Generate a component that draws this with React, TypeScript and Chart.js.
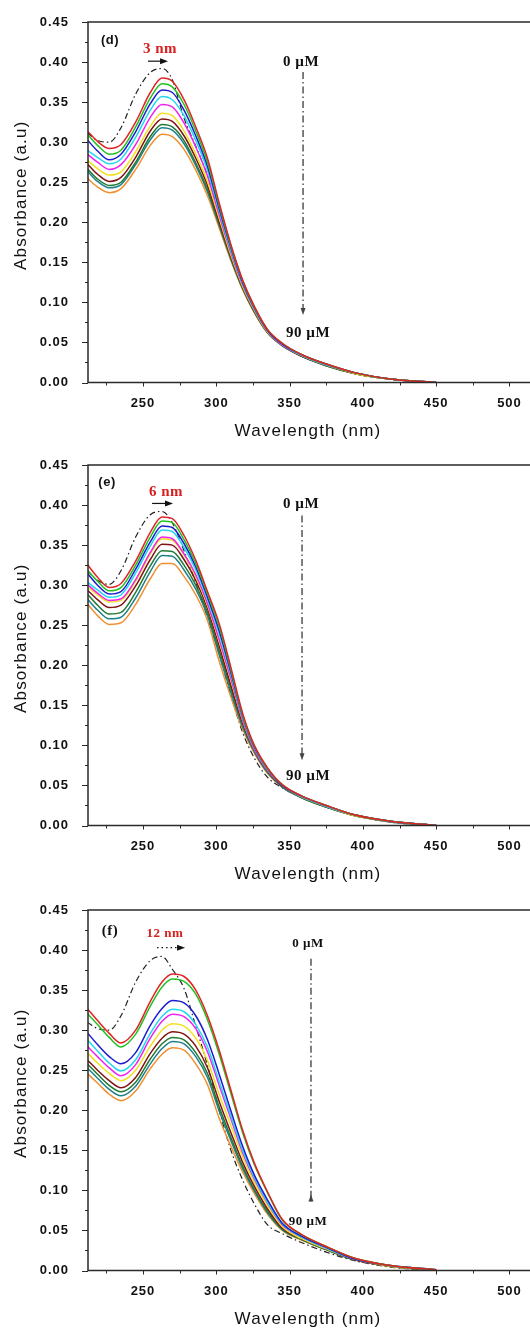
import React, { useEffect, useRef } from 'react';
import { Chart, registerables } from 'chart.js';

Chart.register(...registerables);

// Wavelength grid (nm) on which the spectra were read
const WAVELENGTHS = [212, 219, 227, 235, 245, 255, 263, 270, 278, 286, 294, 302, 310, 318, 326, 335, 345, 358, 375, 395, 420, 450];

const CONCENTRATIONS = ['0 µM', '10 µM', '20 µM', '30 µM', '40 µM', '50 µM', '60 µM', '70 µM', '80 µM', '90 µM'];
const COLORS = ['#e02424', '#22c022', '#1c1cd0', '#22d8f0', '#f022f0', '#f2e020', '#801414', '#207a34', '#20808a', '#f09032'];

const X_TICKS = [250, 300, 350, 400, 450, 500];
const X_MINOR = [225, 275, 325, 375, 425, 475];
const Y_TICKS = [0, 0.05, 0.1, 0.15, 0.2, 0.25, 0.3, 0.35, 0.4, 0.45];

// black dash-dot reference spectrum of each panel
const D_REFERENCE = [0.312, 0.302, 0.300, 0.318, 0.360, 0.387, 0.392, 0.378, 0.330, 0.295, 0.258, 0.210, 0.162, 0.122, 0.091, 0.064, 0.047, 0.034, 0.022, 0.011, 0.004, 0];
const E_REFERENCE = [0.318, 0.306, 0.301, 0.318, 0.360, 0.388, 0.392, 0.378, 0.343, 0.303, 0.260, 0.214, 0.163, 0.116, 0.084, 0.060, 0.047, 0.035, 0.023, 0.012, 0.004, 0];
const F_REFERENCE = [0.310, 0.302, 0.300, 0.318, 0.360, 0.387, 0.392, 0.376, 0.352, 0.305, 0.256, 0.200, 0.150, 0.113, 0.083, 0.057, 0.046, 0.035, 0.023, 0.012, 0.004, 0];

// panel (d)
const D_SERIES: number[][] = [
  [0.314, 0.301, 0.292, 0.297, 0.325, 0.362, 0.380, 0.376, 0.353, 0.319, 0.280, 0.224, 0.172, 0.128, 0.095, 0.066, 0.049, 0.035, 0.023, 0.012, 0.004, 0],
  [0.310, 0.296, 0.285, 0.290, 0.319, 0.355, 0.373, 0.369, 0.347, 0.314, 0.275, 0.221, 0.170, 0.127, 0.094, 0.066, 0.049, 0.035, 0.023, 0.012, 0.004, 0],
  [0.303, 0.289, 0.278, 0.285, 0.313, 0.348, 0.365, 0.362, 0.340, 0.308, 0.270, 0.217, 0.168, 0.125, 0.093, 0.065, 0.048, 0.035, 0.023, 0.012, 0.004, 0],
  [0.290, 0.281, 0.273, 0.279, 0.306, 0.340, 0.357, 0.353, 0.333, 0.302, 0.265, 0.214, 0.165, 0.124, 0.092, 0.065, 0.048, 0.034, 0.022, 0.012, 0.004, 0],
  [0.285, 0.275, 0.266, 0.272, 0.297, 0.331, 0.347, 0.344, 0.324, 0.294, 0.258, 0.209, 0.162, 0.122, 0.091, 0.064, 0.047, 0.034, 0.022, 0.012, 0.004, 0],
  [0.278, 0.267, 0.259, 0.263, 0.288, 0.320, 0.336, 0.333, 0.314, 0.285, 0.251, 0.205, 0.159, 0.120, 0.090, 0.063, 0.047, 0.034, 0.022, 0.011, 0.004, 0],
  [0.273, 0.260, 0.251, 0.256, 0.281, 0.314, 0.329, 0.326, 0.308, 0.280, 0.246, 0.201, 0.157, 0.119, 0.089, 0.063, 0.047, 0.033, 0.022, 0.011, 0.004, 0],
  [0.267, 0.254, 0.246, 0.250, 0.275, 0.307, 0.322, 0.319, 0.302, 0.274, 0.241, 0.198, 0.155, 0.118, 0.088, 0.062, 0.046, 0.033, 0.021, 0.011, 0.004, 0],
  [0.264, 0.251, 0.243, 0.247, 0.272, 0.303, 0.318, 0.315, 0.298, 0.271, 0.238, 0.196, 0.154, 0.117, 0.088, 0.062, 0.046, 0.033, 0.021, 0.011, 0.004, 0],
  [0.255, 0.244, 0.237, 0.242, 0.266, 0.296, 0.310, 0.307, 0.291, 0.265, 0.233, 0.193, 0.152, 0.116, 0.087, 0.062, 0.046, 0.033, 0.021, 0.011, 0.004, 0],
];

// panel (e)
const E_SERIES: number[][] = [
  [0.326, 0.310, 0.297, 0.302, 0.330, 0.366, 0.385, 0.383, 0.362, 0.331, 0.292, 0.252, 0.197, 0.140, 0.100, 0.072, 0.051, 0.037, 0.025, 0.013, 0.005, 0],
  [0.319, 0.305, 0.293, 0.297, 0.325, 0.360, 0.380, 0.378, 0.357, 0.327, 0.289, 0.248, 0.194, 0.138, 0.099, 0.071, 0.051, 0.037, 0.025, 0.013, 0.005, 0],
  [0.315, 0.300, 0.289, 0.292, 0.320, 0.354, 0.374, 0.372, 0.352, 0.323, 0.285, 0.243, 0.191, 0.137, 0.098, 0.071, 0.050, 0.037, 0.025, 0.013, 0.005, 0],
  [0.304, 0.294, 0.285, 0.288, 0.315, 0.349, 0.369, 0.367, 0.347, 0.319, 0.282, 0.239, 0.188, 0.135, 0.097, 0.070, 0.050, 0.036, 0.024, 0.013, 0.005, 0],
  [0.301, 0.290, 0.281, 0.283, 0.307, 0.341, 0.360, 0.358, 0.339, 0.313, 0.277, 0.232, 0.183, 0.132, 0.095, 0.069, 0.050, 0.036, 0.024, 0.013, 0.005, 0],
  [0.298, 0.288, 0.279, 0.281, 0.305, 0.339, 0.358, 0.356, 0.338, 0.311, 0.275, 0.230, 0.181, 0.131, 0.095, 0.069, 0.050, 0.036, 0.024, 0.012, 0.005, 0],
  [0.294, 0.282, 0.272, 0.275, 0.299, 0.332, 0.351, 0.350, 0.332, 0.306, 0.271, 0.224, 0.175, 0.128, 0.094, 0.068, 0.049, 0.036, 0.024, 0.012, 0.005, 0],
  [0.289, 0.275, 0.264, 0.266, 0.291, 0.324, 0.343, 0.342, 0.325, 0.300, 0.266, 0.218, 0.171, 0.126, 0.093, 0.067, 0.049, 0.035, 0.023, 0.012, 0.005, 0],
  [0.283, 0.269, 0.258, 0.260, 0.284, 0.317, 0.337, 0.336, 0.319, 0.295, 0.262, 0.213, 0.166, 0.123, 0.092, 0.066, 0.048, 0.035, 0.023, 0.012, 0.004, 0],
  [0.277, 0.262, 0.251, 0.253, 0.276, 0.308, 0.327, 0.327, 0.311, 0.288, 0.256, 0.205, 0.160, 0.120, 0.090, 0.065, 0.048, 0.035, 0.023, 0.012, 0.004, 0],
];

// panel (f)
const F_SERIES: number[][] = [
  [0.327, 0.312, 0.296, 0.284, 0.300, 0.336, 0.360, 0.370, 0.367, 0.350, 0.318, 0.275, 0.225, 0.175, 0.134, 0.098, 0.064, 0.045, 0.030, 0.015, 0.006, 0.001],
  [0.321, 0.307, 0.291, 0.279, 0.295, 0.330, 0.354, 0.364, 0.361, 0.345, 0.313, 0.270, 0.221, 0.172, 0.132, 0.097, 0.063, 0.045, 0.030, 0.015, 0.006, 0.001],
  [0.297, 0.282, 0.267, 0.258, 0.272, 0.306, 0.327, 0.337, 0.334, 0.318, 0.288, 0.245, 0.199, 0.155, 0.119, 0.088, 0.059, 0.043, 0.029, 0.014, 0.006, 0.001],
  [0.288, 0.274, 0.259, 0.249, 0.263, 0.296, 0.317, 0.326, 0.323, 0.307, 0.279, 0.236, 0.193, 0.150, 0.116, 0.085, 0.058, 0.042, 0.028, 0.014, 0.006, 0.001],
  [0.280, 0.267, 0.253, 0.243, 0.257, 0.290, 0.311, 0.320, 0.317, 0.302, 0.273, 0.231, 0.189, 0.147, 0.114, 0.084, 0.057, 0.042, 0.028, 0.014, 0.006, 0.001],
  [0.272, 0.259, 0.246, 0.237, 0.250, 0.280, 0.300, 0.308, 0.305, 0.290, 0.262, 0.220, 0.181, 0.142, 0.110, 0.081, 0.055, 0.040, 0.027, 0.014, 0.005, 0.001],
  [0.263, 0.250, 0.237, 0.228, 0.241, 0.271, 0.290, 0.298, 0.295, 0.280, 0.253, 0.211, 0.172, 0.135, 0.105, 0.077, 0.053, 0.040, 0.027, 0.013, 0.005, 0],
  [0.258, 0.245, 0.231, 0.223, 0.235, 0.264, 0.283, 0.291, 0.288, 0.272, 0.246, 0.204, 0.166, 0.130, 0.101, 0.074, 0.052, 0.039, 0.026, 0.013, 0.005, 0],
  [0.253, 0.240, 0.226, 0.218, 0.230, 0.258, 0.277, 0.286, 0.283, 0.267, 0.241, 0.199, 0.162, 0.127, 0.099, 0.072, 0.051, 0.039, 0.026, 0.013, 0.005, 0],
  [0.246, 0.234, 0.220, 0.212, 0.224, 0.252, 0.270, 0.278, 0.275, 0.258, 0.232, 0.190, 0.155, 0.123, 0.096, 0.070, 0.050, 0.038, 0.026, 0.013, 0.005, 0],
];

type Notes = {
  tag: string; tagFont: string; tagAt: [number, number];
  shift: string; shiftFont: string; shiftAt: [number, number];
  arrow: [number, number, number]; arrowDotted: boolean;
  labelFont: string; topAt: [number, number]; bottomAt: [number, number];
  guide: [number, number, number]; guideHeadUp: boolean;
};

const SANS = '"Liberation Sans", Arial, sans-serif';
const SERIF = '"Liberation Serif", "Times New Roman", serif';

const D_NOTES: Notes = {
  tag: '(d)', tagFont: `bold 13px ${SANS}`, tagAt: [227.5, 0.4275],
  shift: '3 nm', shiftFont: `bold 15px ${SERIF}`, shiftAt: [261.6, 0.4162],
  arrow: [253.4, 267.1, 0.4011], arrowDotted: false,
  labelFont: `bold 15px ${SERIF}`, topAt: [357.8, 0.4001], bottomAt: [362.6, 0.062],
  guide: [359.2, 0.3876, 0.0906], guideHeadUp: false,
};
const E_NOTES: Notes = {
  tag: '(e)', tagFont: `bold 13px ${SANS}`, tagAt: [225.5, 0.428],
  shift: '6 nm', shiftFont: `bold 15px ${SERIF}`, shiftAt: [265.7, 0.4167],
  arrow: [256.2, 270.5, 0.402], arrowDotted: false,
  labelFont: `bold 15px ${SERIF}`, topAt: [357.8, 0.4007], bottomAt: [362.6, 0.0614],
  guide: [358.5, 0.387, 0.0876], guideHeadUp: false,
};
const F_NOTES: Notes = {
  tag: '(f)', tagFont: `bold 15px ${SERIF}`, tagAt: [227.5, 0.4241],
  shift: '12 nm', shiftFont: `bold 13px ${SERIF}`, shiftAt: [265, 0.4204],
  arrow: [259.6, 278.7, 0.403], arrowDotted: true,
  labelFont: `bold 13px ${SERIF}`, topAt: [362.6, 0.408], bottomAt: [362.6, 0.061],
  guide: [364.6, 0.389, 0.086], guideHeadUp: true,
};

function makeDecor(notes: Notes) {
  return {
    id: 'decor',
    beforeDraw(chart: any) {
      chart.ctx.letterSpacing = '1px';
    },
    afterDraw(chart: any) {
      const { ctx, chartArea: ca, scales } = chart;
      const xs = scales.x;
      const ys = scales.y;
      const px = (v: number) => xs.getPixelForValue(v);
      const py = (v: number) => ys.getPixelForValue(v);
      ctx.save();
      // frame
      ctx.strokeStyle = '#2a2a2a';
      ctx.lineWidth = 1.5;
      ctx.setLineDash([]);
      ctx.beginPath();
      ctx.moveTo(ca.right + 2, ca.top);
      ctx.lineTo(ca.left, ca.top);
      ctx.lineTo(ca.left, ca.bottom);
      ctx.lineTo(ca.right + 2, ca.bottom);
      ctx.stroke();
      // ticks
      ctx.lineWidth = 1;
      ctx.beginPath();
      for (const v of X_TICKS) { const p = Math.round(px(v)) + 0.5; ctx.moveTo(p, ca.bottom); ctx.lineTo(p, ca.bottom + 4); }
      for (const v of X_MINOR) { const p = Math.round(px(v)) + 0.5; ctx.moveTo(p, ca.bottom); ctx.lineTo(p, ca.bottom + 3); }
      for (const v of Y_TICKS) { const p = Math.round(py(v)) + 0.5; ctx.moveTo(ca.left, p); ctx.lineTo(ca.left - 6, p); }
      for (const v of Y_TICKS.slice(0, -1)) { const p = Math.round(py(v + 0.025)) + 0.5; ctx.moveTo(ca.left, p); ctx.lineTo(ca.left - 3, p); }
      ctx.stroke();
      // axis titles
      ctx.fillStyle = '#111';
      ctx.textAlign = 'center';
      ctx.textBaseline = 'middle';
      ctx.letterSpacing = '1.2px';
      ctx.font = `17px ${SANS}`;
      ctx.fillText('Wavelength (nm)', ca.left + 220, ca.bottom + 48.5);
      ctx.save();
      ctx.translate(21, (ca.top + ca.bottom) / 2 - 7);
      ctx.rotate(-Math.PI / 2);
      ctx.fillText('Absorbance (a.u)', 0, 0);
      ctx.restore();
      // annotations
      ctx.letterSpacing = '0.5px';
      ctx.font = notes.tagFont;
      ctx.fillText(notes.tag, px(notes.tagAt[0]), py(notes.tagAt[1]));
      ctx.fillStyle = '#d81e1e';
      ctx.font = notes.shiftFont;
      ctx.fillText(notes.shift, px(notes.shiftAt[0]), py(notes.shiftAt[1]));
      ctx.fillStyle = '#111';
      ctx.font = notes.labelFont;
      ctx.fillText('0 µM', px(notes.topAt[0]), py(notes.topAt[1]));
      ctx.fillText('90 µM', px(notes.bottomAt[0]), py(notes.bottomAt[1]));
      // shift arrow
      const ax1 = px(notes.arrow[0]);
      const ax2 = px(notes.arrow[1]);
      const ay = py(notes.arrow[2]);
      ctx.strokeStyle = '#111';
      ctx.lineWidth = 1.2;
      ctx.setLineDash(notes.arrowDotted ? [1.5, 3] : []);
      ctx.beginPath();
      ctx.moveTo(ax1, ay);
      ctx.lineTo(ax2 - 5, ay);
      ctx.stroke();
      ctx.setLineDash([]);
      ctx.beginPath();
      ctx.moveTo(ax2, ay);
      ctx.lineTo(ax2 - 8, ay - 3);
      ctx.lineTo(ax2 - 8, ay + 3);
      ctx.closePath();
      ctx.fill();
      // concentration guide
      const gx = px(notes.guide[0]);
      const gy1 = py(notes.guide[1]);
      const gy2 = py(notes.guide[2]);
      ctx.strokeStyle = '#555';
      ctx.fillStyle = '#444';
      ctx.lineWidth = 1.5;
      ctx.setLineDash([7, 3, 1.5, 3]);
      ctx.beginPath();
      ctx.moveTo(gx, gy1);
      ctx.lineTo(gx, gy2);
      ctx.stroke();
      ctx.setLineDash([]);
      ctx.beginPath();
      if (notes.guideHeadUp) {
        ctx.moveTo(gx, gy2 - 7);
        ctx.lineTo(gx - 2.5, gy2);
        ctx.lineTo(gx + 2.5, gy2);
      } else {
        ctx.moveTo(gx, gy2 + 5);
        ctx.lineTo(gx - 2.5, gy2 - 2);
        ctx.lineTo(gx + 2.5, gy2 - 2);
      }
      ctx.closePath();
      ctx.fill();
      ctx.restore();
    },
  };
}

function SpectrumPanel(props: { top: number; height: number; padBottom: number; series: number[][]; reference: number[]; notes: Notes }) {
  const ref = useRef<HTMLCanvasElement>(null);
  const { top, height, padBottom, series, reference, notes } = props;
  useEffect(() => {
    const tickFont = { family: SANS, size: 13, weight: 'bold' as const, lineHeight: 1.2 };
    const datasets: any[] = series.map((vals, i) => ({
      label: CONCENTRATIONS[i],
      data: WAVELENGTHS.map((w, j) => ({ x: w, y: vals[j] })),
      borderColor: COLORS[i],
      borderWidth: 1.5,
      pointRadius: 0,
      cubicInterpolationMode: 'monotone',
      order: i,
    }));
    datasets.push({
      label: 'reference',
      data: WAVELENGTHS.map((w, j) => ({ x: w, y: reference[j] })),
      borderColor: '#222',
      borderWidth: 1.2,
      borderDash: [6, 3, 1.5, 3],
      pointRadius: 0,
      cubicInterpolationMode: 'monotone',
      order: 20,
    });
    const chart = new Chart(ref.current as HTMLCanvasElement, {
      type: 'line',
      data: { datasets },
      options: {
        responsive: false,
        animation: false,
        devicePixelRatio: 1,
        layout: { padding: { top: 22, left: 0, right: 0, bottom: padBottom } },
        plugins: { legend: { display: false }, tooltip: { enabled: false } },
        scales: {
          x: {
            type: 'linear',
            min: 212.5,
            max: 514,
            grid: { display: false },
            border: { display: false },
            afterBuildTicks: (s: any) => { s.ticks = X_TICKS.map((v) => ({ value: v })); },
            afterFit: (s: any) => { s.height = 57.5; },
            ticks: { autoSkip: false, maxRotation: 0, padding: 5, color: '#111', font: tickFont, callback: (v: any) => String(v) },
          },
          y: {
            type: 'linear',
            min: 0,
            max: 0.45,
            grid: { display: false },
            border: { display: false },
            afterBuildTicks: (s: any) => { s.ticks = Y_TICKS.map((v) => ({ value: v })); },
            afterFit: (s: any) => { s.width = 88; },
            ticks: { padding: 11, color: '#111', font: tickFont, callback: (v: any) => Number(v).toFixed(2) },
          },
        },
      },
      plugins: [makeDecor(notes)],
    } as any);
    return () => chart.destroy();
  }, []);
  return (
    <canvas
      ref={ref}
      width={530}
      height={height}
      style={{ position: 'absolute', left: 0, top, width: 530, height, display: 'block' }}
    />
  );
}

export default function App() {
  return (
    <div style={{ position: 'absolute', left: 0, top: 0, width: 530, height: 1328, overflow: 'hidden', background: '#fff' }}>
      <SpectrumPanel top={0} height={443} padBottom={3} series={D_SERIES} reference={D_REFERENCE} notes={D_NOTES} />
      <SpectrumPanel top={443} height={443} padBottom={3} series={E_SERIES} reference={E_REFERENCE} notes={E_NOTES} />
      <SpectrumPanel top={888} height={440} padBottom={0} series={F_SERIES} reference={F_REFERENCE} notes={F_NOTES} />
    </div>
  );
}
